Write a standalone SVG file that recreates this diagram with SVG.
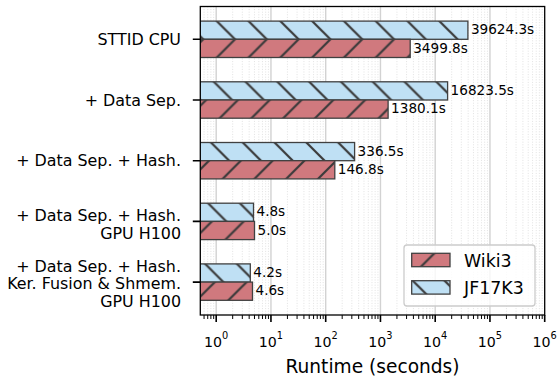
<svg xmlns="http://www.w3.org/2000/svg" width="557" height="379" viewBox="0 0 557 379">
<style>
text{font-family:"DejaVu Sans","Liberation Sans",sans-serif;fill:#000}
.yl{font-size:15.9px;text-anchor:end}
.xl{font-size:14.2px;text-anchor:middle}
.val{font-size:13.6px}
.bar{stroke:#404040;stroke-width:1.3}
.mg{stroke:#d2d2d2;stroke-width:1.4;fill:none}
.ng{stroke:#dadada;stroke-width:0.8;stroke-dasharray:1 1.6;fill:none}
.tk{stroke:#000;fill:none}
</style>
<defs>
<pattern id="hR" patternUnits="userSpaceOnUse" x="19.9" y="0" width="31.8" height="31.8">
<rect x="-1" y="-1" width="34" height="34" fill="#d0797e"/>
<path d="M0,31.8L31.8,0M-3,3L3,-3M28.8,34.8L34.8,28.8" stroke="#3a3a3a" stroke-width="2.2"/>
</pattern>
<pattern id="hB" patternUnits="userSpaceOnUse" x="4.9" y="0" width="31.8" height="31.8">
<rect x="-1" y="-1" width="34" height="34" fill="#bfe0f4"/>
<path d="M0,0L31.8,31.8M-3,28.8L3,34.8M28.8,-3L34.8,3" stroke="#3a3a3a" stroke-width="2.2"/>
</pattern>
<clipPath id="ax"><rect x="200.3" y="6.5" width="344.4" height="308.5"/></clipPath>
</defs>
<rect width="557" height="379" fill="#fff"/>
<g id="grid">
<path class="ng" d="M204.05,6.5V315M207.72,6.5V315M210.89,6.5V315M213.69,6.5V315M232.68,6.5V315M242.32,6.5V315M249.16,6.5V315M254.47,6.5V315M258.8,6.5V315M262.47,6.5V315M265.64,6.5V315M268.44,6.5V315M287.43,6.5V315M297.07,6.5V315M303.91,6.5V315M309.22,6.5V315M313.55,6.5V315M317.22,6.5V315M320.39,6.5V315M323.19,6.5V315M342.18,6.5V315M351.82,6.5V315M358.66,6.5V315M363.97,6.5V315M368.3,6.5V315M371.97,6.5V315M375.14,6.5V315M377.94,6.5V315M396.93,6.5V315M406.57,6.5V315M413.41,6.5V315M418.72,6.5V315M423.05,6.5V315M426.72,6.5V315M429.89,6.5V315M432.69,6.5V315M451.68,6.5V315M461.32,6.5V315M468.16,6.5V315M473.47,6.5V315M477.8,6.5V315M481.47,6.5V315M484.64,6.5V315M487.44,6.5V315M506.43,6.5V315M516.07,6.5V315M522.91,6.5V315M528.22,6.5V315M532.55,6.5V315M536.22,6.5V315M539.39,6.5V315M542.19,6.5V315"/>
<path class="mg" d="M216.2,6.5V315M270.95,6.5V315M325.7,6.5V315M380.45,6.5V315M435.2,6.5V315M489.95,6.5V315"/>
</g>
<g clip-path="url(#ax)">
<g id="sttid-cpu">
<rect class="bar" x="199" y="21.1" width="268.9" height="18.2" fill="url(#hB)"/>
<rect class="bar" x="199" y="39.3" width="211.2" height="18.2" fill="url(#hR)"/>
</g>
<g id="data-sep">
<rect class="bar" x="199" y="81.8" width="248.6" height="18.2" fill="url(#hB)"/>
<rect class="bar" x="199" y="100" width="189.1" height="18.2" fill="url(#hR)"/>
</g>
<g id="data-sep-hash">
<rect class="bar" x="199" y="142.5" width="155.6" height="18.2" fill="url(#hB)"/>
<rect class="bar" x="199" y="160.7" width="135.8" height="18.2" fill="url(#hR)"/>
</g>
<g id="gpu-h100">
<rect class="bar" x="199" y="203.2" width="54.5" height="18.2" fill="url(#hB)"/>
<rect class="bar" x="199" y="221.4" width="55.5" height="18.2" fill="url(#hR)"/>
</g>
<g id="kernel-fusion">
<rect class="bar" x="199" y="263.9" width="51.3" height="18.2" fill="url(#hB)"/>
<rect class="bar" x="199" y="282.1" width="53.5" height="18.2" fill="url(#hR)"/>
</g>
</g>
<g id="value-labels">
<text class="val" x="470.9" y="34.1">39624.3s</text>
<text class="val" x="413.2" y="52.5">3499.8s</text>
<text class="val" x="450.6" y="94.8">16823.5s</text>
<text class="val" x="391.1" y="113.2">1380.1s</text>
<text class="val" x="357.6" y="155.5">336.5s</text>
<text class="val" x="337.8" y="173.9">146.8s</text>
<text class="val" x="256.5" y="216.2">4.8s</text>
<text class="val" x="257.5" y="234.6">5.0s</text>
<text class="val" x="253.3" y="276.9">4.2s</text>
<text class="val" x="255.5" y="295.3">4.6s</text>
</g>
<g id="axes">
<rect x="200.3" y="6.5" width="344.4" height="308.5" fill="none" stroke="#000" stroke-width="1.3"/>
<path class="tk" stroke-width="1.6" d="M216.2,315v7M270.95,315v7M325.7,315v7M380.45,315v7M435.2,315v7M489.95,315v7M544.7,315v7M200.3,39.3h-7.5M200.3,100h-7.5M200.3,160.7h-7.5M200.3,221.4h-7.5M200.3,282.1h-7.5"/>
<path class="tk" stroke-width="1" d="M204.05,315v4M207.72,315v4M210.89,315v4M213.69,315v4M232.68,315v4M242.32,315v4M249.16,315v4M254.47,315v4M258.8,315v4M262.47,315v4M265.64,315v4M268.44,315v4M287.43,315v4M297.07,315v4M303.91,315v4M309.22,315v4M313.55,315v4M317.22,315v4M320.39,315v4M323.19,315v4M342.18,315v4M351.82,315v4M358.66,315v4M363.97,315v4M368.3,315v4M371.97,315v4M375.14,315v4M377.94,315v4M396.93,315v4M406.57,315v4M413.41,315v4M418.72,315v4M423.05,315v4M426.72,315v4M429.89,315v4M432.69,315v4M451.68,315v4M461.32,315v4M468.16,315v4M473.47,315v4M477.8,315v4M481.47,315v4M484.64,315v4M487.44,315v4M506.43,315v4M516.07,315v4M522.91,315v4M528.22,315v4M532.55,315v4M536.22,315v4M539.39,315v4M542.19,315v4"/>
<text class="xl" x="216.2" y="346.7">10<tspan font-size="9.8" dy="-7.7">0</tspan></text>
<text class="xl" x="270.95" y="346.7">10<tspan font-size="9.8" dy="-7.7">1</tspan></text>
<text class="xl" x="325.7" y="346.7">10<tspan font-size="9.8" dy="-7.7">2</tspan></text>
<text class="xl" x="380.45" y="346.7">10<tspan font-size="9.8" dy="-7.7">3</tspan></text>
<text class="xl" x="435.2" y="346.7">10<tspan font-size="9.8" dy="-7.7">4</tspan></text>
<text class="xl" x="489.95" y="346.7">10<tspan font-size="9.8" dy="-7.7">5</tspan></text>
<text class="xl" x="544.7" y="346.7">10<tspan font-size="9.8" dy="-7.7">6</tspan></text>
<text x="372.5" y="373.3" font-size="18.6" text-anchor="middle">Runtime (seconds)</text>
<text class="yl" x="181" y="45">STTID CPU</text>
<text class="yl" x="181" y="105.7">+ Data Sep.</text>
<text class="yl" x="181" y="166.3">+ Data Sep. + Hash.</text>
<text class="yl" x="181" y="220.9">+ Data Sep. + Hash.</text>
<text class="yl" x="181" y="238.5">GPU H100</text>
<text class="yl" x="181" y="271.7">+ Data Sep. + Hash.</text>
<text class="yl" x="181" y="289.3">Ker. Fusion &amp; Shmem.</text>
<text class="yl" x="181" y="306.9">GPU H100</text>
</g>
<g id="legend">
<rect x="404" y="245" width="131" height="61" rx="3" fill="#fff" fill-opacity="0.8" stroke="#cccccc" stroke-width="1.3"/>
<rect class="bar" x="411.7" y="253.3" width="38.3" height="13.4" fill="url(#hR)"/>
<rect class="bar" x="411.7" y="280.7" width="38.3" height="13.4" fill="url(#hB)"/>
<text x="464" y="266.7" font-size="17.4">Wiki3</text>
<text x="464" y="294.3" font-size="17.4">JF17K3</text>
</g>
</svg>
